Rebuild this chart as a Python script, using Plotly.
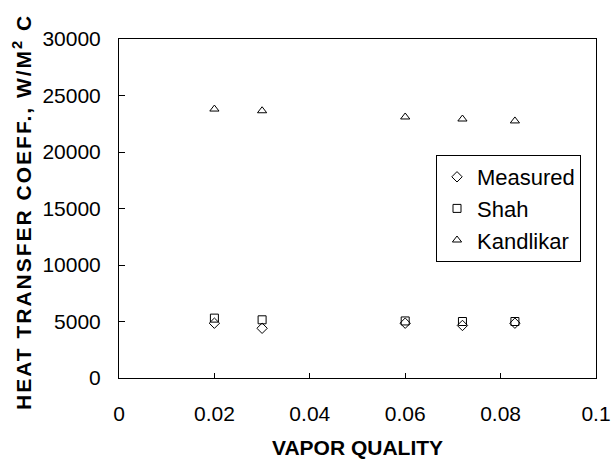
import plotly.graph_objects as go

vapor_quality = [0.02, 0.03, 0.06, 0.072, 0.083]
measured = [4850, 4400, 4850, 4650, 4850]
shah = [5300, 5150, 5050, 5000, 5000]
kandlikar = [23800, 23650, 23100, 22920, 22750]

x_ticks = [0, 0.02, 0.04, 0.06, 0.08, 0.1]
x_tick_labels = ["0", "0.02", "0.04", "0.06", "0.08", "0.1"]
y_ticks = [0, 5000, 10000, 15000, 20000, 25000, 30000]
y_tick_labels = ["0", "5000", "10000", "15000", "20000", "25000", "30000"]

FONT = "Liberation Sans, Arial, sans-serif"

fig = go.Figure()
series = [
    ("Measured", measured, "diamond-open", 8),
    ("Shah", shah, "square-open", 8),
    ("Kandlikar", kandlikar, "triangle-up-open", 8),
]
for name, vals, sym, sz in series:
    fig.add_trace(go.Scatter(
        x=vapor_quality, y=vals, mode="markers", name=name,
        marker=dict(symbol=sym, size=sz, color="black", line=dict(color="black", width=1)),
    ))

W, H = 611, 461
L, R, T, B = 119, 15, 39, 83
pw, ph = W - L - R, H - T - B

fig.update_layout(
    width=W, height=H,
    margin=dict(l=L, r=R, t=T, b=B, autoexpand=False),
    paper_bgcolor="white", plot_bgcolor="white",
    font=dict(family=FONT, size=21, color="black"),
    showlegend=True,
    legend=dict(
        x=(436 - L) / pw, y=(378 - 155) / ph, xanchor="left", yanchor="top",
        bordercolor="black", borderwidth=1, bgcolor="white",
        font=dict(family=FONT, size=22, color="black"),
        itemwidth=30, tracegroupgap=0,
    ),
    xaxis=dict(
        range=[0, 0.1], tickvals=x_ticks, ticktext=x_tick_labels,
        showgrid=False, zeroline=False, showline=True, linecolor="black", linewidth=1,
        mirror=True, ticks="inside", ticklen=5, tickcolor="black",
        ticklabelstandoff=17, automargin=False,
    ),
    yaxis=dict(
        range=[0, 30000], tickvals=y_ticks, ticktext=y_tick_labels,
        showgrid=False, zeroline=False, showline=True, linecolor="black", linewidth=1,
        mirror=True, ticks="inside", ticklen=6, tickcolor="black",
        ticklabelstandoff=13, automargin=False,
    ),
    annotations=[
        dict(text="<b>VAPOR QUALITY</b>", xref="paper", yref="paper",
             x=0.5, y=(378 - 447) / ph, xanchor="center", yanchor="middle",
             showarrow=False, font=dict(family=FONT, size=21, color="black")),
        dict(text='<span style="letter-spacing:2px"><b>HEAT TRANSFER COEFF., W/M<sup>2</sup> C</b></span>',
             xref="paper", yref="paper",
             x=(22 - L) / pw, y=(378 - 212) / ph, xanchor="center", yanchor="middle",
             textangle=-90, showarrow=False, font=dict(family=FONT, size=21, color="black")),
    ],
)

fig.write_html("out.html", config={"displayModeBar": False},
               post_script="document.body.style.margin='0';document.body.style.overflow='hidden';")
